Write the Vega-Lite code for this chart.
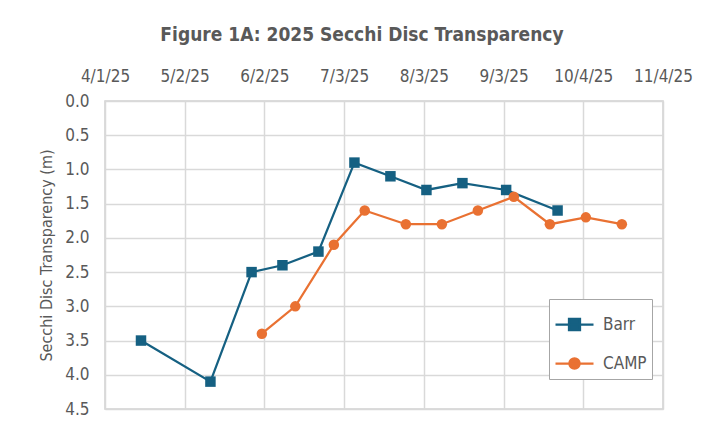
{
  "$schema": "https://vega.github.io/schema/vega-lite/v6.json",
  "width": 558,
  "height": 308,
  "autosize": {"type": "none"},
  "padding": {"left": 105, "top": 101, "right": 58, "bottom": 21},
  "background": "white",
  "title": {
    "text": "Figure 1A: 2025 Secchi Disc Transparency",
    "font": "DejaVu Sans Condensed, sans-serif",
    "fontSize": 19,
    "fontWeight": "bold",
    "color": "#595959",
    "anchor": "middle",
    "frame": "group",
    "dx": -22,
    "offset": 22
  },
  "config": {
    "font": "DejaVu Sans Condensed, sans-serif",
    "view": {"stroke": "#d0d0d0", "strokeWidth": 1.5},
    "axis": {
      "labelFont": "DejaVu Sans Condensed, sans-serif",
      "labelFontSize": 17,
      "labelColor": "#595959",
      "titleFont": "DejaVu Sans Condensed, sans-serif",
      "titleFontSize": 16,
      "titleFontWeight": "normal",
      "titleColor": "#595959",
      "gridColor": "#d9d9d9",
      "gridWidth": 1.5,
      "domain": false,
      "ticks": false
    }
  },
  "data": {
    "values": [
      {"date": "2025-04-15T00:00:00", "series": "Barr", "depth": 3.5},
      {"date": "2025-05-12T00:00:00", "series": "Barr", "depth": 4.1},
      {"date": "2025-05-28T00:00:00", "series": "Barr", "depth": 2.5},
      {"date": "2025-06-09T00:00:00", "series": "Barr", "depth": 2.4},
      {"date": "2025-06-23T00:00:00", "series": "Barr", "depth": 2.2},
      {"date": "2025-07-07T00:00:00", "series": "Barr", "depth": 0.9},
      {"date": "2025-07-21T00:00:00", "series": "Barr", "depth": 1.1},
      {"date": "2025-08-04T00:00:00", "series": "Barr", "depth": 1.3},
      {"date": "2025-08-18T00:00:00", "series": "Barr", "depth": 1.2},
      {"date": "2025-09-04T00:00:00", "series": "Barr", "depth": 1.3},
      {"date": "2025-09-24T00:00:00", "series": "Barr", "depth": 1.6},
      {"date": "2025-06-01T00:00:00", "series": "CAMP", "depth": 3.4},
      {"date": "2025-06-14T00:00:00", "series": "CAMP", "depth": 3.0},
      {"date": "2025-06-29T00:00:00", "series": "CAMP", "depth": 2.1},
      {"date": "2025-07-11T00:00:00", "series": "CAMP", "depth": 1.6},
      {"date": "2025-07-27T00:00:00", "series": "CAMP", "depth": 1.8},
      {"date": "2025-08-10T00:00:00", "series": "CAMP", "depth": 1.8},
      {"date": "2025-08-24T00:00:00", "series": "CAMP", "depth": 1.6},
      {"date": "2025-09-07T00:00:00", "series": "CAMP", "depth": 1.4},
      {"date": "2025-09-21T00:00:00", "series": "CAMP", "depth": 1.8},
      {"date": "2025-10-05T00:00:00", "series": "CAMP", "depth": 1.7},
      {"date": "2025-10-19T00:00:00", "series": "CAMP", "depth": 1.8}
    ]
  },
  "encoding": {
    "x": {
      "field": "date",
      "type": "temporal",
      "scale": {
        "domain": [
          {"year": 2025, "month": 4, "date": 1},
          {"year": 2025, "month": 11, "date": 4}
        ]
      },
      "axis": {
        "orient": "top",
        "title": null,
        "format": "%-m/%-d/%y",
        "values": [
          {"year": 2025, "month": 4, "date": 1},
          {"year": 2025, "month": 5, "date": 2},
          {"year": 2025, "month": 6, "date": 2},
          {"year": 2025, "month": 7, "date": 3},
          {"year": 2025, "month": 8, "date": 3},
          {"year": 2025, "month": 9, "date": 3},
          {"year": 2025, "month": 10, "date": 4},
          {"year": 2025, "month": 11, "date": 4}
        ],
        "labelOverlap": false,
        "labelFlush": false,
        "labelPadding": 16
      }
    },
    "y": {
      "field": "depth",
      "type": "quantitative",
      "scale": {"domain": [0, 4.5], "reverse": true, "nice": false},
      "axis": {
        "title": "Secchi Disc Transparency (m)",
        "values": [0, 0.5, 1, 1.5, 2, 2.5, 3, 3.5, 4, 4.5],
        "format": ".1f",
        "labelPadding": 16,
        "titlePadding": 10
      }
    },
    "color": {
      "field": "series",
      "type": "nominal",
      "scale": {"domain": ["Barr", "CAMP"], "range": ["#156082", "#E97132"]},
      "legend": {
        "title": null,
        "orient": "none",
        "legendX": 444,
        "legendY": 198,
        "strokeColor": "#a6a6a6",
        "fillColor": "white",
        "padding": 5,
        "rowPadding": 8,
        "symbolSize": 1444,
        "symbolStrokeWidth": 2.25,
        "labelFontSize": 17,
        "labelColor": "#595959",
        "labelOffset": 8,
        "encode": {
          "symbols": {
            "update": {
              "shape": {"signal": "datum.value == 'Barr' ? 'M-1,0H1M-0.29,-0.29H0.29V0.29H-0.29Z' : 'M-1,0H1M0.27,0A0.27,0.27,0,1,1,-0.27,0A0.27,0.27,0,1,1,0.27,0Z'"},
              "fill": {"signal": "datum.value == 'Barr' ? '#156082' : '#E97132'"},
              "stroke": {"signal": "datum.value == 'Barr' ? '#156082' : '#E97132'"},
              "strokeWidth": {"value": 2.25},
              "opacity": {"value": 1},
              "fillOpacity": {"value": 1}
            }
          }
        }
      }
    }
  },
  "layer": [
    {
      "mark": {"type": "line", "strokeWidth": 2.25}
    },
    {
      "mark": {"type": "point", "filled": true, "opacity": 1},
      "encoding": {
        "shape": {
          "condition": {"test": "datum.series == 'Barr'", "value": "square"},
          "value": "circle"
        },
        "size": {"value": 110}
      }
    }
  ]
}
